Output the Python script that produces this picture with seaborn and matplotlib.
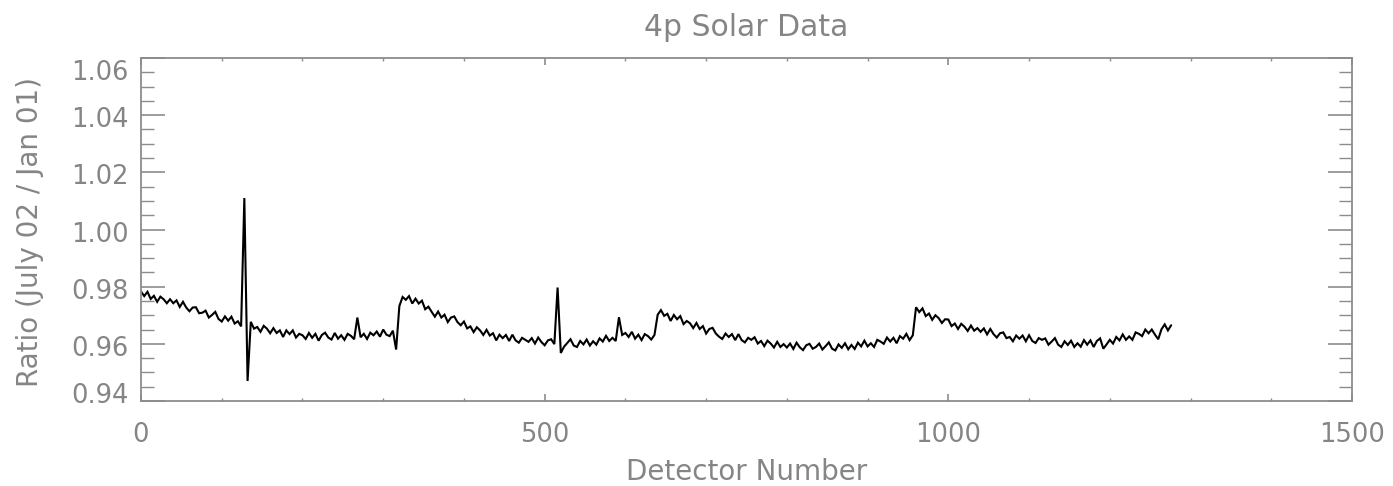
import numpy as np
import pandas as pd
import matplotlib
matplotlib.use("Agg")
import matplotlib.pyplot as plt
import matplotlib.transforms as mtransforms
import seaborn as sns
from matplotlib.ticker import MultipleLocator, FormatStrFormatter

# ---- data (one value every 4 detectors) ----
detector_step = 4
ratio = [
    0.9783, 0.9767, 0.9782, 0.9757, 0.9768, 0.9747, 0.9765, 0.9756, 0.9742, 0.9756,
    0.9742, 0.9752, 0.9729, 0.9747, 0.9727, 0.9714, 0.9727, 0.9728, 0.9707, 0.9709,
    0.9716, 0.9692, 0.9701, 0.9712, 0.9687, 0.9678, 0.9696, 0.9681, 0.9695, 0.9671,
    0.9679, 0.9661, 1.0110, 0.9470, 0.9677, 0.9653, 0.9659, 0.9642, 0.9663, 0.9653,
    0.9637, 0.9655, 0.9638, 0.9647, 0.9624, 0.9647, 0.9634, 0.9647, 0.9622, 0.9635,
    0.9630, 0.9617, 0.9638, 0.9621, 0.9635, 0.9611, 0.9631, 0.9639, 0.9622, 0.9615,
    0.9638, 0.9618, 0.9630, 0.9614, 0.9635, 0.9628, 0.9616, 0.9692, 0.9623, 0.9635,
    0.9617, 0.9639, 0.9630, 0.9643, 0.9625, 0.9650, 0.9632, 0.9627, 0.9646, 0.9580,
    0.9732, 0.9764, 0.9754, 0.9767, 0.9741, 0.9758, 0.9741, 0.9751, 0.9721, 0.9730,
    0.9712, 0.9695, 0.9713, 0.9692, 0.9702, 0.9676, 0.9692, 0.9696, 0.9676, 0.9665,
    0.9678, 0.9654, 0.9661, 0.9641, 0.9658, 0.9647, 0.9631, 0.9649, 0.9629, 0.9637,
    0.9612, 0.9632, 0.9620, 0.9631, 0.9610, 0.9632, 0.9612, 0.9604, 0.9621, 0.9614,
    0.9607, 0.9620, 0.9601, 0.9622, 0.9606, 0.9595, 0.9612, 0.9616, 0.9599, 0.9797,
    0.9568, 0.9590, 0.9603, 0.9616, 0.9594, 0.9589, 0.9610, 0.9598, 0.9615, 0.9594,
    0.9609, 0.9597, 0.9619, 0.9608, 0.9628, 0.9610, 0.9621, 0.9610, 0.9693, 0.9631,
    0.9638, 0.9624, 0.9642, 0.9618, 0.9632, 0.9613, 0.9634, 0.9627, 0.9615, 0.9631,
    0.9702, 0.9718, 0.9698, 0.9705, 0.9680, 0.9701, 0.9686, 0.9697, 0.9669, 0.9680,
    0.9672, 0.9655, 0.9673, 0.9652, 0.9662, 0.9636, 0.9652, 0.9656, 0.9636, 0.9625,
    0.9617, 0.9636, 0.9624, 0.9634, 0.9613, 0.9634, 0.9613, 0.9605, 0.9621, 0.9614,
    0.9623, 0.9601, 0.9610, 0.9592, 0.9611, 0.9601, 0.9587, 0.9607, 0.9589, 0.9599,
    0.9587, 0.9601, 0.9582, 0.9604, 0.9588, 0.9578, 0.9595, 0.9600, 0.9583, 0.9589,
    0.9601, 0.9580, 0.9592, 0.9605, 0.9583, 0.9577, 0.9598, 0.9586, 0.9602, 0.9581,
    0.9596, 0.9582, 0.9604, 0.9591, 0.9611, 0.9591, 0.9602, 0.9589, 0.9614, 0.9608,
    0.9600, 0.9622, 0.9608, 0.9621, 0.9602, 0.9627, 0.9618, 0.9635, 0.9613, 0.9630,
    0.9728, 0.9711, 0.9724, 0.9697, 0.9706, 0.9684, 0.9700, 0.9690, 0.9673, 0.9686,
    0.9685, 0.9662, 0.9671, 0.9652, 0.9670, 0.9660, 0.9645, 0.9664, 0.9646, 0.9655,
    0.9642, 0.9654, 0.9633, 0.9652, 0.9634, 0.9622, 0.9637, 0.9640, 0.9620, 0.9624,
    0.9609, 0.9629, 0.9618, 0.9629, 0.9609, 0.9630, 0.9610, 0.9603, 0.9620, 0.9614,
    0.9619, 0.9597, 0.9608, 0.9620, 0.9597, 0.9589, 0.9609, 0.9596, 0.9611, 0.9589,
    0.9602, 0.9590, 0.9613, 0.9597, 0.9612, 0.9589, 0.9610, 0.9619, 0.9583, 0.9598,
    0.9614, 0.9601, 0.9624, 0.9612, 0.9633, 0.9614, 0.9626, 0.9614, 0.9640, 0.9635,
    0.9627, 0.9650, 0.9637, 0.9650, 0.9632, 0.9616, 0.9651, 0.9668, 0.9647, 0.9665,
]
detector = np.arange(len(ratio)) * detector_step

title = "4p Solar Data"
xlabel = "Detector Number"
ylabel = "Ratio (July 02 / Jan 01)"
x_ticks = [0, 500, 1000, 1500]
y_ticks = [0.94, 0.96, 0.98, 1.00, 1.02, 1.04, 1.06]

df = pd.DataFrame({"detector": detector, "ratio": ratio})

sns.set_style("white")
plt.rcParams["font.family"] = ["DejaVu Sans"]

gray = "#8c8c8c"
text_gray = "#858585"

fig = plt.figure(figsize=(13.93, 4.86), dpi=100)
ax = fig.add_axes([141 / 1393, 1 - 401 / 486, (1352 - 141) / 1393, (401 - 58) / 486])

sns.lineplot(data=df, x="detector", y="ratio", ax=ax, color="black",
             linewidth=1.5, estimator=None, sort=False)
for ln in ax.get_lines():
    ln.set_solid_joinstyle("miter")

ax.set_xlim(0, 1500)
ax.set_ylim(0.94, 1.06)
ax.set_xticks(x_ticks)
ax.set_yticks(y_ticks)
ax.yaxis.set_major_formatter(FormatStrFormatter("%.2f"))
ax.xaxis.set_minor_locator(MultipleLocator(100))
ax.yaxis.set_minor_locator(MultipleLocator(0.005))

for s in ax.spines.values():
    s.set_color(gray)
    s.set_linewidth(1.3)

fs = 18.5
ax.tick_params(axis="x", which="both", direction="in", top=True, bottom=True,
               colors=gray, labelcolor=text_gray, labelsize=fs, pad=15)
ax.tick_params(axis="x", which="major", length=5, width=1.2)
ax.tick_params(axis="x", which="minor", length=2.5, width=1.0)
ax.tick_params(axis="y", which="both", direction="in", left=True, right=True,
               colors=gray, labelcolor=text_gray, labelsize=fs, pad=9)
ax.tick_params(axis="y", which="major", length=17.5, width=1.2)
ax.tick_params(axis="y", which="minor", length=9.5, width=1.0)

ax.set_xlabel(xlabel, fontsize=fs + 1.5, color=text_gray)
ax.xaxis.set_label_coords(0.5, (401 - 472) / 343)
ax.xaxis.label.set_va("center")
ax.set_ylabel(ylabel, fontsize=fs + 1.5, color=text_gray)
ax.yaxis.set_label_coords((30 - 141) / 1211, (401 - 232) / 343)
ax.yaxis.label.set_va("center")
ax.text(0.5, (401 - 27) / 343, title, transform=ax.transAxes, ha="center",
        va="center", fontsize=fs + 3, color=text_gray)

# y tick labels sit slightly below their ticks; edge labels are pulled inward
fig.canvas.draw()
shifts_px = {0.94: 8, 1.06: -12}
for tick in ax.yaxis.get_major_ticks():
    val = round(tick.get_loc(), 2)
    dy = shifts_px.get(val, -2)
    off = mtransforms.ScaledTranslation(0, dy / 100, fig.dpi_scale_trans)
    tick.label1.set_transform(tick.label1.get_transform() + off)

fig.savefig("out.png", dpi=100)
